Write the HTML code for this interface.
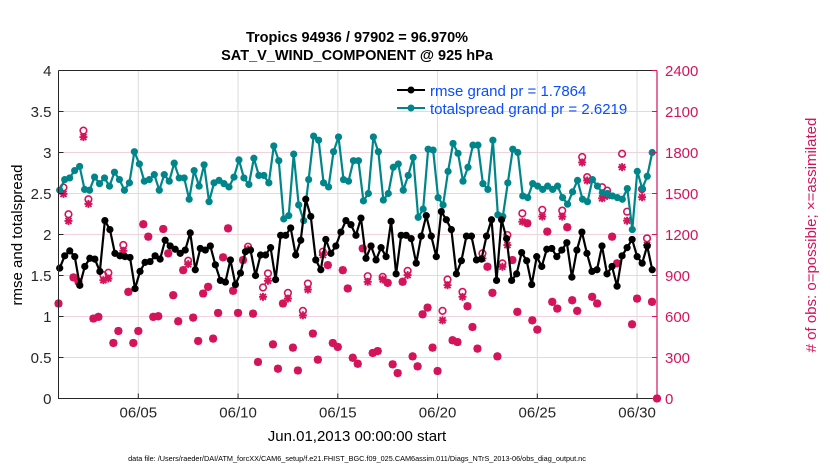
<!DOCTYPE html>
<html><head><meta charset="utf-8">
<style>
html,body{margin:0;padding:0;background:#fff;}
svg{display:block;font-family:"Liberation Sans",Arial,sans-serif;}
</style></head>
<body>
<svg id="chart" width="830" height="470" viewBox="0 0 830 470">
  <text x="357" y="42" font-size="14.5" font-weight="bold" text-anchor="middle">Tropics 94936 / 97902 = 96.970%</text>
  <text x="357" y="60" font-size="14.5" font-weight="bold" text-anchor="middle">SAT_V_WIND_COMPONENT @ 925 hPa</text>
  <g id="grid"></g>
  <g id="obs"></g>
  <g id="lines"></g>
  <g id="axes"></g>
  <text transform="translate(22,235) rotate(-90)" font-size="15" text-anchor="middle">rmse and totalspread</text>
  <text transform="translate(816,235) rotate(-90)" font-size="15" text-anchor="middle" fill="#d4145a"># of obs: o=possible; ×=assimilated</text>
  <text x="357" y="441" font-size="15" text-anchor="middle">Jun.01,2013 00:00:00 start</text>
  <text x="357" y="461" font-size="7.3" text-anchor="middle">data file: /Users/raeder/DAI/ATM_forcXX/CAM6_setup/f.e21.FHIST_BGC.f09_025.CAM6assim.011/Diags_NTrS_2013-06/obs_diag_output.nc</text>
  <g id="legend">
    <line x1="397" y1="90" x2="425" y2="90" stroke="#000" stroke-width="2"/>
    <circle cx="411" cy="90" r="3.5" fill="#000"/>
    <text x="430" y="96" font-size="15" fill="#0a4dff">rmse grand pr = 1.7864</text>
    <line x1="397" y1="108" x2="425" y2="108" stroke="#00868a" stroke-width="2"/>
    <circle cx="411" cy="108" r="3.5" fill="#00868a"/>
    <text x="430" y="114" font-size="15" fill="#0a4dff">totalspread grand pr = 2.6219</text>
  </g>
</svg>
<script>
const leftTicks = [0,0.5,1,1.5,2,2.5,3,3.5,4];
const leftTickLabels = ["0","0.5","1","1.5","2","2.5","3","3.5","4"];
const rightTicks = [0,300,600,900,1200,1500,1800,2100,2400];
const dateTicks = [5,10,15,20,25,30];
const dateTickLabels = ["06/05","06/10","06/15","06/20","06/25","06/30"];
const rmse = [1.59,1.74,1.80,1.73,1.38,1.61,1.71,1.70,1.55,2.17,2.06,1.77,1.74,1.73,1.72,1.34,1.55,1.66,1.67,1.74,1.70,1.93,1.86,1.82,1.77,1.81,2.02,1.57,1.83,1.81,1.86,
1.63,1.44,1.42,1.69,1.39,1.53,1.79,1.81,1.50,1.75,1.75,1.84,1.45,1.99,1.99,2.08,1.75,1.93,2.43,2.22,1.69,1.57,1.94,1.77,1.86,2.03,2.17,2.12,1.99,2.20,
1.71,1.86,1.69,1.84,1.73,2.16,1.52,1.99,1.99,1.95,1.65,1.98,2.23,1.98,1.73,2.28,2.18,2.06,1.52,1.68,1.98,1.98,1.69,1.70,1.98,2.18,1.44,2.18,1.95,1.44,
1.52,1.78,1.68,1.39,1.73,1.61,1.82,1.83,1.73,1.81,1.90,1.48,1.81,2.03,1.77,1.55,1.57,1.86,1.52,1.61,1.37,1.74,1.84,1.94,1.73,1.65,1.86,1.57];
const totalspread = [2.54,2.67,2.69,2.78,2.83,2.55,2.54,2.70,2.62,2.69,2.59,2.76,2.67,2.54,2.63,3.01,2.86,2.65,2.67,2.73,2.54,2.73,2.65,2.87,2.69,2.69,2.43,2.78,2.59,2.85,2.40,
2.63,2.66,2.62,2.58,2.70,2.91,2.69,2.61,2.93,2.72,2.72,2.63,3.08,2.90,2.19,2.23,2.98,2.36,2.17,2.67,3.20,3.15,2.63,2.58,3.01,3.19,2.67,2.65,2.90,2.90,
2.41,2.50,3.19,3.01,2.42,2.50,2.82,2.86,2.54,2.72,2.94,2.21,2.31,3.04,3.03,2.45,2.36,2.77,3.11,2.99,2.65,2.82,3.09,3.09,2.62,2.55,3.15,2.24,2.22,2.63,
3.04,3.00,2.47,2.45,2.62,2.59,2.55,2.59,2.55,2.59,2.45,2.37,2.52,2.66,2.43,2.40,2.67,2.59,2.51,2.50,2.47,2.45,2.43,2.56,2.06,2.77,2.56,2.71,3.00];
const assimilated = [695,1497,1299,886,854,1913,1424,585,597,866,878,406,494,1081,780,406,494,1275,1184,597,602,1240,1062,756,565,939,983,592,421,768,817,
438,626,1033,1245,788,626,1013,1091,621,267,744,861,396,218,695,731,372,205,609,797,475,284,1050,976,406,377,939,805,298,254,
1098,854,333,347,871,846,250,186,854,903,308,235,616,665,372,201,572,829,426,413,744,675,523,365,1025,964,773,308,964,1123,
1013,634,1294,1282,572,504,1331,1221,707,658,1331,1253,719,641,1727,1595,744,695,1465,1483,1184,989,1693,1301,543,731,1473,1123,707,0];
const possible = [695,1544,1348,886,854,1960,1458,585,597,903,920,406,494,1123,780,406,494,1275,1184,597,602,1240,1062,756,565,939,1008,592,421,768,817,
438,626,1033,1245,788,626,1013,1111,621,267,812,915,396,218,695,773,372,205,641,841,475,284,1074,976,406,377,939,805,298,254,
1098,895,333,347,890,846,250,186,854,934,308,235,616,665,372,201,641,871,426,413,780,675,523,365,1062,964,773,308,989,1196,
1013,634,1355,1282,572,504,1380,1221,707,658,1375,1253,719,641,1767,1620,744,695,1546,1521,1184,989,1791,1367,543,731,1532,1172,707,0];

const NS = "http://www.w3.org/2000/svg";
const L = 58.5, R = 657, T = 70.5, B = 398.5;
const D0 = 1, D1 = 31;
const MAG = "#d4145a", TEAL = "#00868a";
function xScale(d){ return L + (d - D0) / (D1 - D0) * (R - L); }
function yLeft(v){ return B - v / 4 * (B - T); }
function yRight(v){ return B - v / 2400 * (B - T); }
function mk(tag, attrs, parent){
  const e = document.createElementNS(NS, tag);
  for (const k in attrs) e.setAttribute(k, attrs[k]);
  parent.appendChild(e);
  return e;
}
const grid = document.getElementById("grid");
const axes = document.getElementById("axes");
const obs = document.getElementById("obs");
const lines = document.getElementById("lines");

rightTicks.forEach((v) => {
  if (v === 0 || v === 2400) return;
  const g = mk("line", {x1:L, x2:R, y1:yRight(v), y2:yRight(v), stroke:"#f2d2df", "stroke-width":1}, grid);
  
  
});
dateTicks.forEach((d) => {
  const g = mk("line", {x1:xScale(d), x2:xScale(d), y1:T, y2:B, stroke:"#dcdcdc", "stroke-width":1}, grid);
  
  
});

const nObs = assimilated.length;
function obsDay(i){ return D0 + i * (D1 - D0) / (nObs - 1); }
possible.forEach((v, i) => {
  const c = mk("circle", {cx:xScale(obsDay(i)), cy:yRight(v), r:3.3, fill:"none", stroke:MAG, "stroke-width":1.6}, obs);
  
  
});
assimilated.forEach((v, i) => {
  const x = xScale(obsDay(i)), y = yRight(v), s = 4;
  const p = mk("path", {d:`M${x-s} ${y}H${x+s}M${x} ${y-s}V${y+s}M${x-3} ${y-3}L${x+3} ${y+3}M${x-3} ${y+3}L${x+3} ${y-3}`, stroke:MAG, "stroke-width":1.9, fill:"none"}, obs);
  
  
});

function drawSeries(vals, color, name){
  const n = vals.length, a = 1.06, b = 30.76;
  const pts = vals.map((v, i) => [xScale(a + i * (b - a) / (n - 1)), yLeft(v)]);
  const pl = mk("polyline", {points: pts.map(p => p.join(",")).join(" "), fill:"none", stroke:color, "stroke-width":2.2, "stroke-linejoin":"round"}, lines);
  
  
  pts.forEach(p => {
    const c = mk("circle", {cx:p[0], cy:p[1], r:3.6, fill:color}, lines);
    
    
  });
}
drawSeries(totalspread, TEAL, "totalspread");
drawSeries(rmse, "#000", "rmse");

const ax1 = mk("path", {d:`M${L} ${T}V${B}H${R}M${L} ${T}H${R}`, stroke:"#262626", "stroke-width":1, fill:"none"}, axes);


const ax2 = mk("line", {x1:R, x2:R, y1:T, y2:B, stroke:MAG, "stroke-width":1.2}, axes);


leftTicks.forEach((v, i) => {
  const y = yLeft(v);
  const t = mk("line", {x1:L, x2:L+5, y1:y, y2:y, stroke:"#262626"}, axes);
  
  
  const tx = mk("text", {x:L-7, y:y+5.5, "font-size":15, "text-anchor":"end", fill:"#262626"}, axes);
  tx.textContent = leftTickLabels[i];
  
  
});
rightTicks.forEach((v) => {
  const y = yRight(v);
  const t = mk("line", {x1:R-5, x2:R, y1:y, y2:y, stroke:MAG}, axes);
  
  
  const tx = mk("text", {x:R+8, y:y+5.5, "font-size":15, fill:MAG}, axes);
  tx.textContent = String(v);
  
  
});
dateTicks.forEach((d, i) => {
  const x = xScale(d);
  const t = mk("line", {x1:x, x2:x, y1:B-5, y2:B, stroke:"#262626"}, axes);
  
  
  const tx = mk("text", {x:x, y:B+19, "font-size":15, "text-anchor":"middle", fill:"#262626"}, axes);
  tx.textContent = dateTickLabels[i];
  
  
});
</script>
</body></html>
